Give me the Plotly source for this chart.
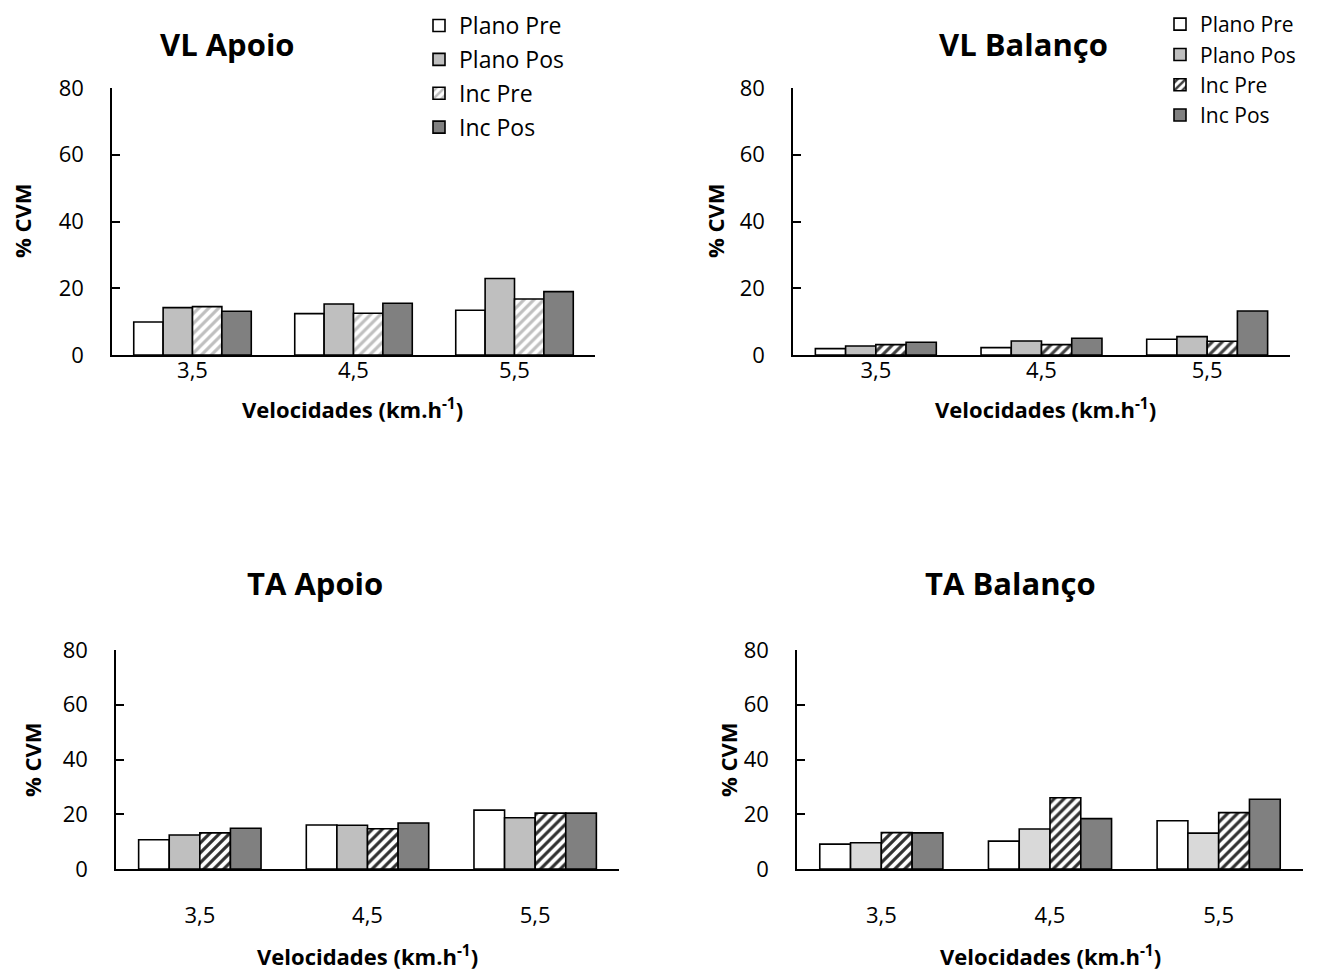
import plotly.graph_objects as go

W, H = 1317, 976
OFF = 8  # page body margin in the browser shifts the figure by this many px

categories = ["3,5", "4,5", "5,5"]
series_names = ["Plano Pre", "Plano Pos", "Inc Pre", "Inc Pos"]

# values per panel: [Plano Pre, Plano Pos, Inc Pre, Inc Pos], each over categories
vl_apoio_plano_pre = [9.9, 12.4, 13.4]
vl_apoio_plano_pos = [14.2, 15.3, 22.9]
vl_apoio_inc_pre = [14.5, 12.5, 16.8]
vl_apoio_inc_pos = [13.1, 15.5, 19.0]

vl_balanco_plano_pre = [1.9, 2.2, 4.7]
vl_balanco_plano_pos = [2.7, 4.2, 5.5]
vl_balanco_inc_pre = [3.1, 3.1, 4.1]
vl_balanco_inc_pos = [3.8, 5.0, 13.2]

ta_apoio_plano_pre = [10.7, 16.1, 21.5]
ta_apoio_plano_pos = [12.4, 16.0, 18.7]
ta_apoio_inc_pre = [13.2, 14.7, 20.4]
ta_apoio_inc_pos = [14.9, 16.8, 20.4]

ta_balanco_plano_pre = [9.1, 10.2, 17.6]
ta_balanco_plano_pos = [9.6, 14.6, 13.1]
ta_balanco_inc_pre = [13.3, 26.0, 20.6]
ta_balanco_inc_pos = [13.2, 18.4, 25.5]

panel_titles = ["VL Apoio", "VL Balanço", "TA Apoio", "TA Balanço"]
y_ticks = [0, 20, 40, 60, 80]

FONT = "Open Sans"


def fx(px):
    return (px - OFF) / W


def fy(py):
    return 1 - (py - OFF) / H


panels = [
    dict(title=panel_titles[0],
         data=[vl_apoio_plano_pre, vl_apoio_plano_pos, vl_apoio_inc_pre, vl_apoio_inc_pos],
         px=(112, 595), py=(88, 355), pos_color="#bfbfbf", hatch="#bfbfbf",
         legend="legend", title_xy=(227, 44), xt_xy=(352, 408), yt_xy=(22, 221), xstand=-5),
    dict(title=panel_titles[1],
         data=[vl_balanco_plano_pre, vl_balanco_plano_pos, vl_balanco_inc_pre, vl_balanco_inc_pos],
         px=(793, 1290), py=(88, 355), pos_color="#bfbfbf", hatch="#404040",
         legend="legend2", title_xy=(1023, 44), xt_xy=(1045, 408), yt_xy=(715, 221), xstand=-5),
    dict(title=panel_titles[2],
         data=[ta_apoio_plano_pre, ta_apoio_plano_pos, ta_apoio_inc_pre, ta_apoio_inc_pos],
         px=(116, 619), py=(650, 869), pos_color="#bfbfbf", hatch="#303030",
         legend=None, title_xy=(315, 583), xt_xy=(367, 955), yt_xy=(32, 760), xstand=26),
    dict(title=panel_titles[3],
         data=[ta_balanco_plano_pre, ta_balanco_plano_pos, ta_balanco_inc_pre, ta_balanco_inc_pos],
         px=(797, 1303), py=(650, 869), pos_color="#d9d9d9", hatch="#303030",
         legend=None, title_xy=(1010, 583), xt_xy=(1050, 955), yt_xy=(728, 760), xstand=26),
]

fig = go.Figure()
annotations = []

for i, p in enumerate(panels):
    n = "" if i == 0 else str(i + 1)
    xa, ya = "x" + n, "y" + n
    colors = ["#ffffff", p["pos_color"], "#ffffff", "#808080"]
    for s, (name, vals) in enumerate(zip(series_names, p["data"])):
        marker = dict(color=colors[s], line=dict(color="#000000", width=1.6))
        if s == 2:
            marker["pattern"] = dict(shape="/", fgcolor=p["hatch"], bgcolor="#ffffff",
                                     size=7, solidity=0.45)
        tr = go.Bar(x=categories, y=vals, name=name, marker=marker, xaxis=xa, yaxis=ya,
                    showlegend=p["legend"] is not None,
                    legendgroup=f"p{i}_{s}" if i == 0 else None)
        if p["legend"] is not None:
            tr.legend = p["legend"]
        fig.add_trace(tr)

    xdom = [fx(p["px"][0]), fx(p["px"][1])]
    ydom = [fy(p["py"][1]), fy(p["py"][0])]
    fig.layout["xaxis" + n] = dict(
        type="category", categoryorder="array", categoryarray=categories,
        domain=xdom, anchor=ya, showline=True, linecolor="#000000", linewidth=1.6,
        ticks="", showgrid=False, zeroline=False, automargin=False,
        tickfont=dict(family=FONT, size=22, color="#000"),
        ticklabelstandoff=p["xstand"], fixedrange=True)
    fig.layout["yaxis" + n] = dict(
        domain=ydom, anchor=xa, range=[0, 80], tickvals=y_ticks, showline=True,
        linecolor="#000000", linewidth=1.6, ticks="inside", ticklen=8, tickwidth=1.6,
        tickcolor="#000", showgrid=False, zeroline=False, automargin=False,
        tickfont=dict(family=FONT, size=22, color="#000"), ticklabelstandoff=22,
        fixedrange=True)

    annotations.append(dict(text=f"<b>{p['title']}</b>", x=fx(p["title_xy"][0]),
                            y=fy(p["title_xy"][1]), xref="paper", yref="paper",
                            showarrow=False, xanchor="center", yanchor="middle",
                            font=dict(family=FONT, size=31, color="#000")))
    annotations.append(dict(text="<b>Velocidades (km.h<sup>-1</sup>)</b>",
                            x=fx(p["xt_xy"][0]), y=fy(p["xt_xy"][1]),
                            xref="paper", yref="paper", showarrow=False,
                            xanchor="center", yanchor="middle",
                            font=dict(family=FONT, size=22, color="#000")))
    annotations.append(dict(text="<b>% CVM</b>", x=fx(p["yt_xy"][0]), y=fy(p["yt_xy"][1]),
                            xref="paper", yref="paper", showarrow=False, textangle=-90,
                            xanchor="center", yanchor="middle",
                            font=dict(family=FONT, size=22, color="#000")))

fig.update_layout(
    template="none",
    width=W, height=H, margin=dict(l=0, r=0, t=0, b=0, pad=0, autoexpand=False),
    paper_bgcolor="#ffffff", plot_bgcolor="#ffffff",
    barmode="group", bargap=0.27, bargroupgap=0,
    font=dict(family=FONT, color="#000"),
    annotations=annotations,
    legend=dict(x=fx(419), y=fy(4), xanchor="left", yanchor="top",
                font=dict(family=FONT, size=23, color="#000"), tracegroupgap=1,
                bgcolor="rgba(0,0,0,0)", borderwidth=0, itemclick=False),
    legend2=dict(x=fx(1160), y=fy(4), xanchor="left", yanchor="top",
                 font=dict(family=FONT, size=21, color="#000"),
                 bgcolor="rgba(0,0,0,0)", borderwidth=0, itemclick=False),
)

fig.write_html("out.html")
